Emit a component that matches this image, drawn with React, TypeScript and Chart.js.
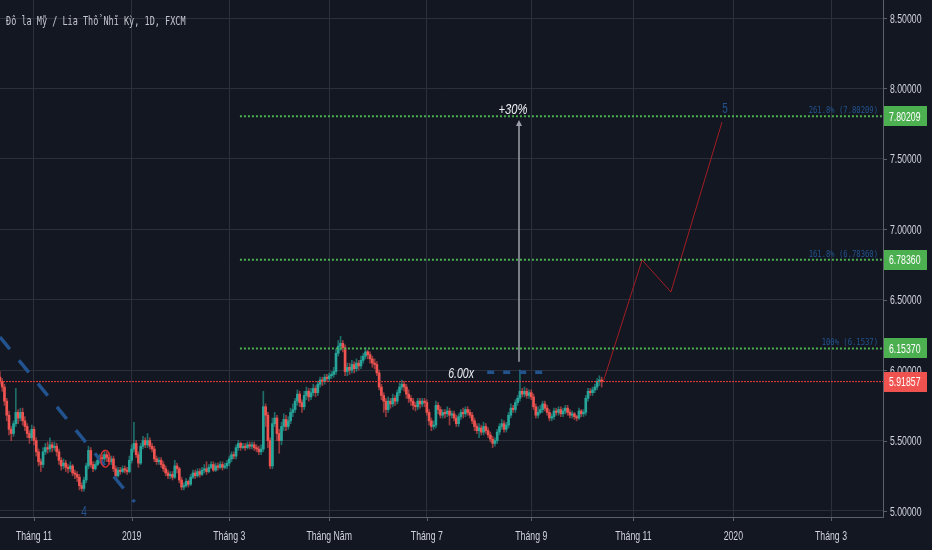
import React, { useEffect, useRef } from "react";
import { Chart, registerables } from "chart.js";

Chart.register(...registerables);

// ---------- data ----------
const START_INDEX = -15; // bar index of first candle (0 = 1 Nov 2018)
const FIRST_OPEN = 5.95;

const closes = [
  5.92, 5.88, 5.78, 5.68, 5.58, 5.55, 5.62, 5.7, 5.66, 5.7,
  5.64, 5.6, 5.55, 5.52, 5.58, 5.5, 5.42, 5.35, 5.33, 5.42,
  5.45, 5.44, 5.47, 5.45, 5.46, 5.42, 5.36, 5.32, 5.34, 5.31,
  5.3, 5.32, 5.27, 5.26, 5.24, 5.18, 5.16, 5.22, 5.32, 5.43,
  5.33, 5.3, 5.33, 5.36, 5.38, 5.37, 5.4, 5.38, 5.35, 5.37,
  5.3, 5.25, 5.29, 5.28, 5.3, 5.29, 5.28, 5.36, 5.44, 5.48,
  5.4, 5.34, 5.46, 5.5, 5.47, 5.5, 5.46, 5.44, 5.37, 5.35,
  5.36, 5.33, 5.3, 5.27, 5.25, 5.26, 5.24, 5.32, 5.3, 5.22,
  5.17, 5.18, 5.21, 5.19, 5.24, 5.27, 5.25, 5.28, 5.26, 5.29,
  5.3, 5.28, 5.31, 5.33, 5.29, 5.32, 5.31, 5.33, 5.31, 5.32,
  5.34, 5.37, 5.4, 5.39, 5.45, 5.48, 5.45, 5.46, 5.45, 5.47,
  5.46, 5.47, 5.45, 5.44, 5.42, 5.44, 5.74, 5.68, 5.5, 5.32,
  5.62, 5.66, 5.55, 5.5, 5.6, 5.65, 5.6, 5.64, 5.7, 5.72,
  5.78, 5.83, 5.77, 5.74, 5.82, 5.85, 5.81, 5.84, 5.87, 5.84,
  5.9, 5.93, 5.92, 5.95, 5.94, 5.96, 5.97, 5.99, 6.12, 6.17,
  6.19, 6.16, 5.99, 6.02, 6.0, 6.04, 6.01, 6.05, 6.03, 6.07,
  6.1, 6.13, 6.11, 6.08, 6.05, 6.04, 5.98, 5.88, 5.82, 5.78,
  5.72, 5.78, 5.76, 5.8, 5.78, 5.84, 5.88, 5.9, 5.88, 5.83,
  5.8, 5.78, 5.75, 5.74, 5.78, 5.76, 5.78, 5.77, 5.7, 5.64,
  5.6, 5.61, 5.75, 5.72, 5.68, 5.7, 5.69, 5.71, 5.68, 5.69,
  5.66, 5.62, 5.67, 5.7, 5.69, 5.72, 5.7, 5.68, 5.64, 5.6,
  5.57, 5.59, 5.56, 5.6, 5.57, 5.54, 5.51, 5.48, 5.5, 5.56,
  5.6, 5.62, 5.58, 5.61, 5.68, 5.73, 5.72, 5.77, 5.8, 5.85,
  5.83, 5.85, 5.82, 5.84, 5.81, 5.74, 5.68, 5.7, 5.72, 5.76,
  5.73, 5.7, 5.66, 5.67, 5.71, 5.7, 5.72, 5.69, 5.71, 5.73,
  5.7, 5.68, 5.69, 5.67, 5.66, 5.71, 5.69, 5.7, 5.8, 5.85, 5.84, 5.86, 5.88, 5.92, 5.93, 5.919,
];

const highs = [
  5.99, 5.94, 5.9, 5.8, 5.71, 5.6, 5.64, 5.87, 5.72, 5.73,
  5.73, 5.67, 5.62, 5.57, 5.61, 5.6, 5.52, 5.44, 5.37, 5.45,
  5.48, 5.49, 5.52, 5.49, 5.49, 5.48, 5.44, 5.38, 5.37, 5.36,
  5.33, 5.35, 5.33, 5.29, 5.28, 5.26, 5.2, 5.24, 5.34, 5.46,
  5.45, 5.35, 5.35, 5.38, 5.4, 5.4, 5.43, 5.42, 5.4, 5.39,
  5.39, 5.32, 5.31, 5.31, 5.32, 5.32, 5.31, 5.39, 5.47, 5.63,
  5.5, 5.42, 5.48, 5.53, 5.52, 5.55, 5.52, 5.48, 5.46, 5.39,
  5.38, 5.38, 5.35, 5.32, 5.29, 5.28, 5.28, 5.36, 5.34, 5.31,
  5.24, 5.2, 5.23, 5.22, 5.26, 5.29, 5.29, 5.3, 5.3, 5.31,
  5.33, 5.35, 5.33, 5.35, 5.35, 5.34, 5.34, 5.35, 5.35, 5.34,
  5.36, 5.39, 5.42, 5.42, 5.47, 5.5, 5.49, 5.48, 5.48, 5.49,
  5.49, 5.49, 5.49, 5.47, 5.46, 5.47, 5.85, 5.76, 5.7, 5.52,
  5.66, 5.7, 5.68, 5.58, 5.63, 5.69, 5.68, 5.67, 5.73, 5.76,
  5.8, 5.86, 5.85, 5.79, 5.85, 5.88, 5.87, 5.87, 5.9, 5.89,
  5.92, 5.95, 5.95, 5.97, 5.97, 5.98, 5.99, 6.02, 6.15, 6.21,
  6.24, 6.21, 6.18, 6.05, 6.05, 6.07, 6.06, 6.08, 6.07, 6.1,
  6.12, 6.16, 6.14, 6.13, 6.1, 6.08, 6.06, 6.0, 5.9, 5.84,
  5.8, 5.81, 5.8, 5.83, 5.82, 5.86, 5.91, 5.93, 5.92, 5.9,
  5.86, 5.82, 5.8, 5.77, 5.8, 5.8, 5.8, 5.8, 5.79, 5.72,
  5.66, 5.64, 5.78, 5.77, 5.74, 5.72, 5.72, 5.74, 5.73, 5.71,
  5.71, 5.68, 5.69, 5.72, 5.73, 5.74, 5.74, 5.72, 5.7, 5.66,
  5.62, 5.62, 5.61, 5.63, 5.62, 5.59, 5.56, 5.53, 5.52, 5.58,
  5.62, 5.65, 5.64, 5.63, 5.7, 5.76, 5.75, 5.79, 5.82, 6.0,
  5.87, 5.88, 5.87, 5.86, 5.86, 5.83, 5.76, 5.74, 5.75, 5.78,
  5.78, 5.75, 5.72, 5.69, 5.73, 5.73, 5.74, 5.74, 5.73, 5.75,
  5.75, 5.72, 5.71, 5.7, 5.68, 5.73, 5.72, 5.72, 5.82, 5.87, 5.87, 5.88, 5.9, 5.94, 5.96, 5.95,
];

const lows = [
  5.9, 5.85, 5.75, 5.64, 5.54, 5.5, 5.53, 5.6, 5.62, 5.64,
  5.61, 5.57, 5.52, 5.48, 5.5, 5.47, 5.39, 5.32, 5.28, 5.31,
  5.4, 5.41, 5.42, 5.42, 5.43, 5.39, 5.33, 5.29, 5.3, 5.28,
  5.27, 5.28, 5.25, 5.23, 5.21, 5.15, 5.14, 5.14, 5.2, 5.3,
  5.31, 5.28, 5.29, 5.32, 5.34, 5.34, 5.35, 5.35, 5.33, 5.33,
  5.28, 5.23, 5.24, 5.26, 5.27, 5.27, 5.26, 5.27, 5.34, 5.42,
  5.38, 5.31, 5.33, 5.44, 5.45, 5.45, 5.44, 5.42, 5.35, 5.33,
  5.33, 5.31, 5.28, 5.25, 5.23, 5.23, 5.22, 5.23, 5.27, 5.2,
  5.15, 5.15, 5.17, 5.17, 5.18, 5.23, 5.23, 5.24, 5.24, 5.25,
  5.27, 5.26, 5.27, 5.3, 5.28, 5.28, 5.29, 5.3, 5.29, 5.3,
  5.3, 5.32, 5.35, 5.37, 5.37, 5.43, 5.43, 5.44, 5.43, 5.44,
  5.44, 5.44, 5.43, 5.42, 5.4, 5.4, 5.42, 5.6, 5.45, 5.3,
  5.3, 5.6, 5.5, 5.41, 5.47, 5.57, 5.57, 5.58, 5.62, 5.67,
  5.7, 5.75, 5.74, 5.7, 5.72, 5.79, 5.78, 5.79, 5.82, 5.81,
  5.82, 5.88, 5.89, 5.9, 5.92, 5.92, 5.94, 5.95, 5.97, 6.1,
  6.14, 6.13, 5.96, 5.96, 5.97, 5.98, 5.98, 5.99, 6.0, 6.01,
  6.05, 6.08, 6.08, 6.05, 6.02, 6.01, 5.96, 5.86, 5.79, 5.7,
  5.67, 5.7, 5.73, 5.74, 5.75, 5.76, 5.82, 5.86, 5.85, 5.8,
  5.77, 5.75, 5.72, 5.71, 5.72, 5.73, 5.74, 5.74, 5.68, 5.61,
  5.57, 5.58, 5.59, 5.69, 5.66, 5.66, 5.66, 5.67, 5.61, 5.66,
  5.64, 5.6, 5.6, 5.65, 5.66, 5.67, 5.68, 5.66, 5.62, 5.57,
  5.55, 5.52, 5.54, 5.54, 5.55, 5.52, 5.49, 5.45, 5.46, 5.48,
  5.54, 5.58, 5.56, 5.56, 5.59, 5.66, 5.7, 5.7, 5.75, 5.78,
  5.81, 5.81, 5.8, 5.8, 5.79, 5.72, 5.66, 5.66, 5.69, 5.7,
  5.71, 5.68, 5.64, 5.64, 5.65, 5.68, 5.68, 5.67, 5.67, 5.69,
  5.68, 5.66, 5.66, 5.65, 5.64, 5.65, 5.67, 5.67, 5.68, 5.78, 5.82, 5.82, 5.84, 5.86, 5.89, 5.88,
];

const xTickIndex = [0, 43, 86, 130, 173, 219, 264, 308, 351];
const xTickLabels = ["Tháng 11", "2019", "Tháng 3", "Tháng Năm", "Tháng 7", "Tháng 9", "Tháng 11", "2020", "Tháng 3"];
const yTicks = [5.0, 5.5, 6.0, 6.5, 7.0, 7.5, 8.0, 8.5];

const fibLevels = [6.1537, 6.7836, 7.80209];
const fibTexts = ["100% (6.1537)", "161.8% (6.78360)", "261.8% (7.80209)"];
const fibAxisTexts = ["6.15370", "6.78360", "7.80209"];
const fibStartIndex = 90.7;

const lastPrice = 5.91857;
const lastPriceText = "5.91857";

const projX = [250.7, 267.8, 280.5, 303.0];
const projY = [5.919, 6.782, 6.555, 7.761];

const waveX = [-14.97, 44.3];
const waveY = [6.235, 5.064];

const arrowX = 213.6;
const arrowY = [6.06, 7.762];

const targetX = [199.6, 224.2];
const targetY = 5.985;

const circleX = 31.4;
const circleY = 5.371;

const title = "Đô la Mỹ / Lia Thổ Nhĩ Kỳ, 1D, FXCM";

// ---------- styles ----------
const X_MIN = -14.97;
const X_MAX = 373.9;
const Y_MIN = 4.9574;
const Y_MAX = 8.6278;
const BG = "#131722";
const GRID = "#2c303c";
const AXIS = "#5d606b";
const TEXT = "#d1d4dc";
const UP = "#26a69a";
const DOWN = "#ef5350";
const UP_WICK = "rgba(38,166,154,0.6)";
const DOWN_WICK = "rgba(239,83,80,0.6)";
const BLUE = "#22538f";
const GREEN = "#4caf50";
const SX = 0.67;

function drawText(
  ctx: CanvasRenderingContext2D,
  text: string,
  x: number,
  y: number,
  font: string,
  color: string,
  align: CanvasTextAlign,
  baseline: CanvasTextBaseline,
  sx: number = SX
) {
  ctx.save();
  ctx.font = font;
  ctx.fillStyle = color;
  ctx.textAlign = align;
  ctx.textBaseline = baseline;
  ctx.translate(x, y);
  ctx.scale(sx, 1);
  ctx.fillText(text, 0, 0);
  ctx.restore();
}

export default function App() {
  const ref = useRef<HTMLCanvasElement>(null);

  useEffect(() => {
    document.body.style.margin = "0";
    document.body.style.background = BG;
    const canvas = ref.current!;

    const opens = closes.map((c, i) => (i === 0 ? FIRST_OPEN : closes[i - 1]));
    const bodies = closes.map((c, i) => ({ x: START_INDEX + i, y: [opens[i], c] }));
    const wicks = closes.map((c, i) => ({
      x: START_INDEX + i,
      y: [Math.min(lows[i], opens[i], c), Math.max(highs[i], opens[i], c)],
    }));
    const bodyColors = closes.map((c, i) => (c >= opens[i] ? UP : DOWN));
    const wickColors = closes.map((c, i) => (c >= opens[i] ? UP_WICK : DOWN_WICK));

    const lineBase = {
      type: "line" as const,
      pointRadius: 0,
      pointHoverRadius: 0,
      fill: false,
      tension: 0,
      order: 0,
    };

    const datasets: any[] = [
      {
        type: "bar",
        data: bodies,
        backgroundColor: bodyColors,
        borderWidth: 0,
        barThickness: 2,
        grouped: false,
        minBarLength: 1,
        order: 1,
      },
      {
        type: "bar",
        data: wicks,
        backgroundColor: wickColors,
        borderWidth: 0,
        barThickness: 1,
        grouped: false,
        order: 2,
      },
      {
        ...lineBase,
        data: [
          { x: X_MIN, y: lastPrice },
          { x: X_MAX, y: lastPrice },
        ],
        borderColor: "#f23b3b",
        borderWidth: 1,
        borderDash: [2, 1],
      },
      ...fibLevels.map((lv) => ({
        ...lineBase,
        data: [
          { x: fibStartIndex, y: lv },
          { x: X_MAX, y: lv },
        ],
        borderColor: GREEN,
        borderWidth: 2,
        borderDash: [2, 2],
      })),
      {
        ...lineBase,
        data: waveX.map((x, i) => ({ x, y: waveY[i] })),
        borderColor: BLUE,
        borderWidth: 3.5,
        borderDash: [15.5, 14.5],
      },
      {
        ...lineBase,
        data: targetX.map((x) => ({ x, y: targetY })),
        borderColor: BLUE,
        borderWidth: 3.5,
        borderDash: [7, 9],
      },
      {
        ...lineBase,
        data: projX.map((x, i) => ({ x, y: projY[i] })),
        borderColor: "#a01d22",
        borderWidth: 1,
      },
      {
        ...lineBase,
        data: arrowY.map((y) => ({ x: arrowX, y })),
        borderColor: "#9ea1aa",
        borderWidth: 1.5,
      },
    ];

    const overlay = {
      id: "overlay",
      beforeDraw(chart: any) {
        const ctx = chart.ctx as CanvasRenderingContext2D;
        ctx.save();
        ctx.fillStyle = BG;
        ctx.fillRect(0, 0, chart.width, chart.height);
        ctx.restore();
      },
      afterDraw(chart: any) {
        const ctx = chart.ctx as CanvasRenderingContext2D;
        const xs = chart.scales.x;
        const ys = chart.scales.y;
        const area = chart.chartArea;
        const axisFont = "13px 'Liberation Sans', Arial, sans-serif";

        // tick marks
        ctx.save();
        ctx.strokeStyle = AXIS;
        ctx.lineWidth = 1;
        yTicks.forEach((v) => {
          const y = Math.round(ys.getPixelForValue(v)) + 0.5;
          ctx.beginPath();
          ctx.moveTo(area.right, y);
          ctx.lineTo(area.right + 4, y);
          ctx.stroke();
        });
        xTickIndex.forEach((v) => {
          const x = Math.round(xs.getPixelForValue(v)) + 0.5;
          ctx.beginPath();
          ctx.moveTo(x, area.bottom);
          ctx.lineTo(x, area.bottom + 4);
          ctx.stroke();
        });
        ctx.restore();

        // y labels
        yTicks.forEach((v) => {
          drawText(ctx, v.toFixed(5), area.right + 7, ys.getPixelForValue(v) + 1, axisFont, TEXT, "left", "middle");
        });
        // x labels
        xTickIndex.forEach((v, i) => {
          drawText(ctx, xTickLabels[i], xs.getPixelForValue(v), area.bottom + 23, axisFont, TEXT, "center", "alphabetic");
        });

        // title
        drawText(ctx, title, 6, 25, "12px 'DejaVu Sans Mono', monospace", "#c3c6ce", "left", "alphabetic", 0.71);

        // fib texts
        fibLevels.forEach((lv, i) => {
          drawText(ctx, fibTexts[i], area.right - 5, ys.getPixelForValue(lv) - 3, "9px 'DejaVu Sans Mono', monospace", BLUE, "right", "alphabetic", 0.8);
        });

        // axis price boxes
        const box = (v: number, text: string, color: string) => {
          const y = ys.getPixelForValue(v);
          ctx.save();
          ctx.fillStyle = color;
          ctx.fillRect(area.right + 1, Math.round(y - 10), 43, 20);
          ctx.restore();
          drawText(ctx, text, area.right + 6, y + 1, axisFont, "#ffffff", "left", "middle");
        };
        fibLevels.forEach((lv, i) => box(lv, fibAxisTexts[i], GREEN));
        box(lastPrice, lastPriceText, "#f0524f");

        // ellipse
        ctx.save();
        ctx.strokeStyle = "#d32f2f";
        ctx.lineWidth = 1.5;
        ctx.beginPath();
        ctx.ellipse(xs.getPixelForValue(circleX), ys.getPixelForValue(circleY), 4.7, 8.5, 0, 0, Math.PI * 2);
        ctx.stroke();
        ctx.restore();

        // arrowhead
        const ax = xs.getPixelForValue(arrowX);
        const ay = ys.getPixelForValue(arrowY[1]);
        ctx.save();
        ctx.fillStyle = "#9ea1aa";
        ctx.beginPath();
        ctx.moveTo(ax, ay - 2);
        ctx.lineTo(ax - 3, ay + 4);
        ctx.lineTo(ax + 3, ay + 4);
        ctx.closePath();
        ctx.fill();
        ctx.restore();

        // labels
        drawText(ctx, "+30%", ax - 6, ay - 8, "italic 14px 'Liberation Sans', Arial, sans-serif", "#eef0f5", "center", "alphabetic", 0.8);
        drawText(ctx, "6.00x", xs.getPixelForValue(targetX[0]) - 39, ys.getPixelForValue(targetY) + 6, "italic 14px 'Liberation Sans', Arial, sans-serif", "#eef0f5", "left", "alphabetic", 0.75);
        drawText(ctx, "5", xs.getPixelForValue(projX[3]) + 3, ys.getPixelForValue(projY[3]) - 9, "15px 'Liberation Sans', Arial, sans-serif", BLUE, "center", "alphabetic");
        drawText(ctx, "4", xs.getPixelForValue(waveX[0]) + 84, area.bottom - 1, "15px 'Liberation Sans', Arial, sans-serif", BLUE, "center", "alphabetic");
      },
    };

    const chart = new Chart(canvas, {
      type: "line",
      data: { datasets },
      options: {
        animation: false,
        responsive: false,
        maintainAspectRatio: false,
        events: [],
        layout: { padding: 0 },
        plugins: { legend: { display: false }, tooltip: { enabled: false } },
        scales: {
          x: {
            type: "linear",
            min: X_MIN,
            max: X_MAX,
            offset: false,
            grid: { color: GRID, offset: false, drawTicks: false, lineWidth: 1 },
            border: { display: true, color: AXIS, width: 1 },
            ticks: { display: false },
            afterBuildTicks: (s: any) => {
              s.ticks = xTickIndex.map((v) => ({ value: v }));
            },
            afterFit: (s: any) => {
              s.height = 33;
            },
          },
          y: {
            type: "linear",
            position: "right",
            min: Y_MIN,
            max: Y_MAX,
            grid: { color: GRID, drawTicks: false, lineWidth: 1 },
            border: { display: true, color: AXIS, width: 1 },
            ticks: { display: false },
            afterBuildTicks: (s: any) => {
              s.ticks = yTicks.map((v) => ({ value: v }));
            },
            afterFit: (s: any) => {
              s.width = 49;
            },
          },
        },
      } as any,
      plugins: [overlay],
    });

    return () => chart.destroy();
  }, []);

  return (
    <div style={{ position: "absolute", left: 0, top: 0, width: 932, height: 550, background: BG }}>
      <canvas ref={ref} width={932} height={550} style={{ display: "block", width: 932, height: 550 }} />
    </div>
  );
}
